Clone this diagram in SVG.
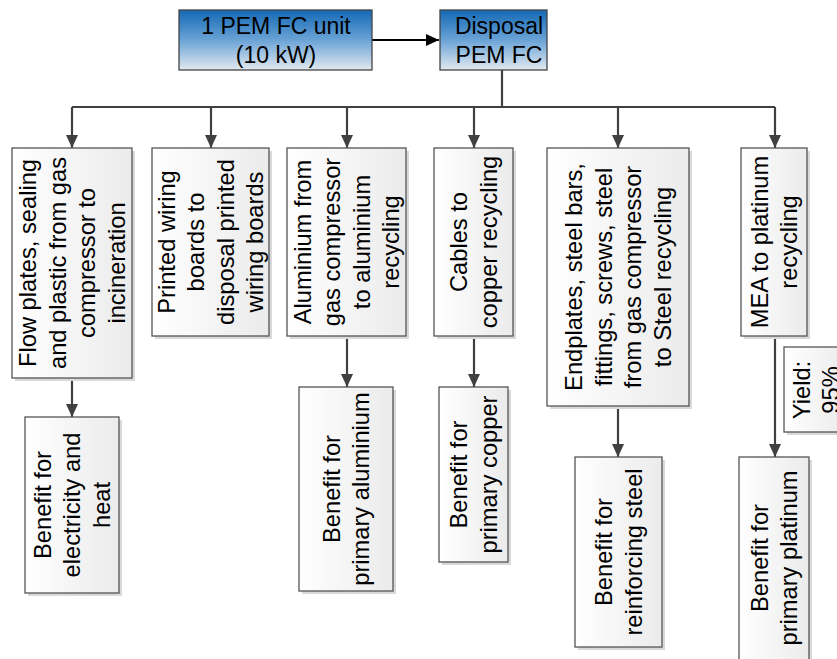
<svg xmlns="http://www.w3.org/2000/svg" width="837" height="659" viewBox="0 0 837 659">
<defs>
<linearGradient id="blue" x1="0" y1="0" x2="0" y2="1">
<stop offset="0" stop-color="#1468b4"/>
<stop offset="0.5" stop-color="#6aa3d6"/>
<stop offset="1" stop-color="#e2e9f0"/>
</linearGradient>
<linearGradient id="gray" x1="0" y1="0" x2="1" y2="0">
<stop offset="0" stop-color="#ffffff"/>
<stop offset="1" stop-color="#ebebeb"/>
</linearGradient>
<marker id="ah" markerUnits="userSpaceOnUse" markerWidth="14" markerHeight="12" refX="13" refY="6" orient="auto">
<path d="M0,0 L13,6 L0,12 Z" fill="#404040"/>
</marker>
<marker id="ahb" markerUnits="userSpaceOnUse" markerWidth="14" markerHeight="12" refX="13" refY="6" orient="auto">
<path d="M0,0 L13,6 L0,12 Z" fill="#000000"/>
</marker>
</defs>
<style>
.t{font-family:"Liberation Sans",Arial,sans-serif;font-size:23.7px;fill:#000;text-anchor:middle}
.tt{font-size:23px}
.bx{fill:url(#gray);stroke:#555;stroke-width:1.3}
.bb{fill:url(#blue);stroke:#444;stroke-width:1.3}
.sh{fill:#d9d9d9}
.c{fill:none;stroke:#404040;stroke-width:2.2}
</style>
<rect width="837" height="659" fill="#fff"/>

<g id="connectors">
<line class="c" x1="372" y1="40" x2="439" y2="40" style="stroke:#000" marker-end="url(#ahb)"/>
<polyline class="c" points="502,70 502,107"/>
<line class="c" x1="72" y1="107" x2="775" y2="107"/>
<line class="c" x1="72" y1="107" x2="72" y2="148" marker-end="url(#ah)"/>
<line class="c" x1="211" y1="107" x2="211" y2="148" marker-end="url(#ah)"/>
<line class="c" x1="347" y1="107" x2="347" y2="148" marker-end="url(#ah)"/>
<line class="c" x1="474" y1="107" x2="474" y2="148" marker-end="url(#ah)"/>
<line class="c" x1="618" y1="107" x2="618" y2="148" marker-end="url(#ah)"/>
<line class="c" x1="775" y1="107" x2="775" y2="148" marker-end="url(#ah)"/>
<line class="c" x1="72" y1="378" x2="72" y2="417" marker-end="url(#ah)"/>
<line class="c" x1="347" y1="336" x2="347" y2="387" marker-end="url(#ah)"/>
<line class="c" x1="474" y1="336" x2="474" y2="387" marker-end="url(#ah)"/>
<line class="c" x1="618" y1="406" x2="618" y2="457" marker-end="url(#ah)"/>
<line class="c" x1="775" y1="336" x2="775" y2="457" marker-end="url(#ah)"/>
</g>

<g id="pemfc">
<rect class="bb" x="179" y="10" width="193" height="60"/>
<text class="t tt" x="276" y="33.5">1 PEM FC unit</text>
<text class="t tt" x="276" y="63">(10 kW)</text>
</g>
<g id="disposal">
<rect class="bb" x="440" y="10" width="107" height="60"/>
<text class="t tt" x="499" y="33.5">Disposal</text>
<text class="t tt" x="499" y="63">PEM FC</text>
</g>

<g id="incineration">
<rect class="sh" x="15" y="151" width="120" height="230"/>
<rect class="bx" x="12" y="148" width="120" height="230"/>
<text class="t" transform="translate(72,263) rotate(-90)"><tspan x="0" y="-35.95">Flow plates, sealing</tspan><tspan x="0" y="-6.45">and plastic from gas</tspan><tspan x="0" y="23.05">compressor to</tspan><tspan x="0" y="52.55">incineration</tspan></text>
</g>
<g id="pwb">
<rect class="sh" x="155" y="151" width="117" height="188"/>
<rect class="bx" x="152" y="148" width="117" height="188"/>
<text class="t" transform="translate(210.5,242) rotate(-90)"><tspan x="0" y="-35.95">Printed wiring</tspan><tspan x="0" y="-6.45">boards to</tspan><tspan x="0" y="23.05">disposal printed</tspan><tspan x="0" y="52.55">wiring boards</tspan></text>
</g>
<g id="aluminium">
<rect class="sh" x="290" y="151" width="119" height="188"/>
<rect class="bx" x="287" y="148" width="119" height="188"/>
<text class="t" transform="translate(346.5,242) rotate(-90)"><tspan x="0" y="-35.95">Aluminium from</tspan><tspan x="0" y="-6.45">gas compressor</tspan><tspan x="0" y="23.05">to aluminium</tspan><tspan x="0" y="52.55">recycling</tspan></text>
</g>
<g id="copper">
<rect class="sh" x="437" y="151" width="79" height="188"/>
<rect class="bx" x="434" y="148" width="79" height="188"/>
<text class="t" transform="translate(473.5,242) rotate(-90)"><tspan x="0" y="-6.45">Cables to</tspan><tspan x="0" y="23.05">copper recycling</tspan></text>
</g>
<g id="steel">
<rect class="sh" x="550" y="151" width="142" height="258"/>
<rect class="bx" x="547" y="148" width="142" height="258"/>
<text class="t" transform="translate(618,277) rotate(-90)"><tspan x="0" y="-35.95">Endplates, steel bars,</tspan><tspan x="0" y="-6.45">fittings, screws, steel</tspan><tspan x="0" y="23.05">from gas compressor</tspan><tspan x="0" y="52.55">to Steel recycling</tspan></text>
</g>
<g id="platinum">
<rect class="sh" x="744" y="151" width="66" height="188"/>
<rect class="bx" x="741" y="148" width="66" height="188"/>
<text class="t" transform="translate(774,242) rotate(-90)"><tspan x="0" y="-6.45">MEA to platinum</tspan><tspan x="0" y="23.05">recycling</tspan></text>
</g>
<g id="yield">
<rect class="sh" x="787" y="350" width="64" height="85"/>
<rect class="bx" x="784" y="347" width="64" height="85"/>
<text class="t" transform="translate(816,390) rotate(-90)"><tspan x="0" y="-6.45">Yield:</tspan><tspan x="0" y="23.05">95%</tspan></text>
</g>

<g id="benefit-heat">
<rect class="sh" x="28" y="420" width="94" height="176"/>
<rect class="bx" x="25" y="417" width="94" height="176"/>
<text class="t" transform="translate(72,505) rotate(-90)"><tspan x="0" y="-21.2">Benefit for</tspan><tspan x="0" y="8.3">electricity and</tspan><tspan x="0" y="37.8">heat</tspan></text>
</g>
<g id="benefit-aluminium">
<rect class="sh" x="302" y="390" width="94" height="204"/>
<rect class="bx" x="299" y="387" width="94" height="204"/>
<text class="t" transform="translate(346,489) rotate(-90)"><tspan x="0" y="-6.45">Benefit for</tspan><tspan x="0" y="23.05">primary aluminium</tspan></text>
</g>
<g id="benefit-copper">
<rect class="sh" x="442" y="390" width="69" height="175"/>
<rect class="bx" x="439" y="387" width="69" height="175"/>
<text class="t" transform="translate(473.5,474.5) rotate(-90)"><tspan x="0" y="-6.45">Benefit for</tspan><tspan x="0" y="23.05">primary copper</tspan></text>
</g>
<g id="benefit-steel">
<rect class="sh" x="578" y="460" width="87" height="190"/>
<rect class="bx" x="575" y="457" width="87" height="190"/>
<text class="t" transform="translate(618.5,552) rotate(-90)"><tspan x="0" y="-6.45">Benefit for</tspan><tspan x="0" y="23.05">reinforcing steel</tspan></text>
</g>
<g id="benefit-platinum">
<rect class="sh" x="742" y="460" width="70" height="205"/>
<rect class="bx" x="739" y="457" width="70" height="205"/>
<text class="t" transform="translate(774,558) rotate(-90)"><tspan x="0" y="-6.45">Benefit for</tspan><tspan x="0" y="23.05">primary platinum</tspan></text>
</g>
</svg>
